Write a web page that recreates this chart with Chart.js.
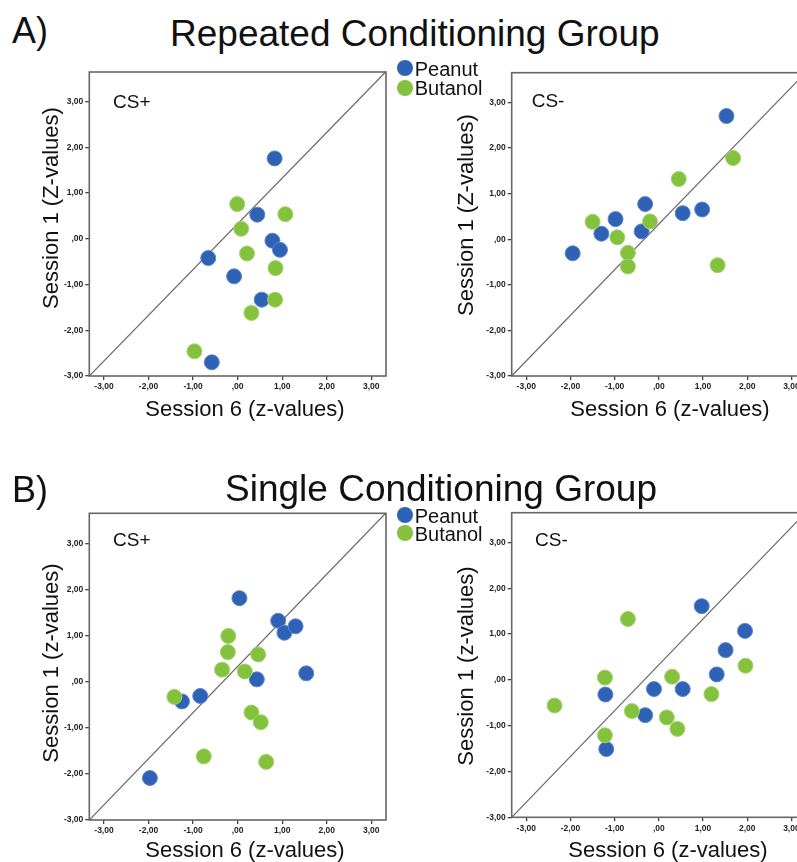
<!DOCTYPE html>
<html><head><meta charset="utf-8">
<script src="https://cdn.jsdelivr.net/npm/chart.js@4/dist/chart.umd.min.js"></script>
<style>
html,body{margin:0;padding:0;background:#fff;width:797px;height:862px;overflow:hidden;position:relative;font-family:"Liberation Sans",Arial,sans-serif;color:#111}
canvas{position:absolute}
.t{position:absolute;white-space:nowrap;line-height:1}
.dot{position:absolute;width:16px;height:16px;border-radius:50%}
</style></head><body>
<canvas id="c1" width="400" height="370" style="left:0;top:60px"></canvas>
<canvas id="c2" width="400" height="370" style="left:420px;top:60px"></canvas>
<canvas id="c3" width="400" height="362" style="left:0;top:500px"></canvas>
<canvas id="c4" width="400" height="362" style="left:420px;top:500px"></canvas>

<div class="t" style="left:12px;top:12.5px;font-size:36px">A)</div>
<div class="t" style="left:170px;top:14.7px;font-size:37px">Repeated Conditioning Group</div>
<div class="t" style="left:12px;top:472px;font-size:36px">B)</div>
<div class="t" style="left:441px;top:469.5px;font-size:37px;transform:translateX(-50%)">Single Conditioning Group</div>

<div class="t" style="left:113px;top:91.6px;font-size:19px">CS+</div>
<div class="t" style="left:531.7px;top:91px;font-size:19px">CS-</div>
<div class="t" style="left:113px;top:530px;font-size:19px">CS+</div>
<div class="t" style="left:535px;top:530px;font-size:19px">CS-</div>

<div class="t" style="left:245px;top:397.9px;font-size:22px;transform:translateX(-50%)">Session 6 (z-values)</div>
<div class="t" style="left:670px;top:397.9px;font-size:22px;transform:translateX(-50%)">Session 6 (z-values)</div>
<div class="t" style="left:245px;top:839.4px;font-size:22px;transform:translateX(-50%)">Session 6 (z-values)</div>
<div class="t" style="left:668px;top:839.4px;font-size:22px;transform:translateX(-50%)">Session 6 (z-values)</div>

<div class="t" style="left:50.7px;top:208px;font-size:22px;transform:translate(-50%,-50%) rotate(-90deg)">Session 1 (Z-values)</div>
<div class="t" style="left:465.7px;top:214.5px;font-size:22px;transform:translate(-50%,-50%) rotate(-90deg)">Session 1 (Z-values)</div>
<div class="t" style="left:50.7px;top:663px;font-size:22px;transform:translate(-50%,-50%) rotate(-90deg)">Session 1 (z-values)</div>
<div class="t" style="left:465.7px;top:666px;font-size:22px;transform:translate(-50%,-50%) rotate(-90deg)">Session 1 (z-values)</div>

<div id="leg"></div>

<script>
// ---- data ----
const tickValues = [-3, -2, -1, 0, 1, 2, 3];
const xRange = [-3.33, 3.33];
const yRange = [-3, 3.65];
const refLineX = [-3.33, 3.33];
const refLineY = [-3, 3.66];
const seriesNames = ['Peanut', 'Butanol'];

// A) Repeated conditioning, CS+
const repPlusPeanutX  = [0.83, 0.44, 0.78, 0.95, -0.66, -0.08, 0.54, -0.58];
const repPlusPeanutY  = [1.76, 0.53, -0.04, -0.24, -0.42, -0.82, -1.33, -2.70];
const repPlusButanolX = [-0.01, 1.07, 0.08, 0.21, 0.85, 0.84, 0.31, -0.97];
const repPlusButanolY = [0.76, 0.54, 0.22, -0.32, -0.64, -1.33, -1.62, -2.46];
// A) Repeated conditioning, CS-
const repMinusPeanutX  = [1.53, 0.98, 0.54, -0.31, -0.98, -1.30, -0.39, -1.95];
const repMinusPeanutY  = [2.70, 0.65, 0.57, 0.77, 0.44, 0.12, 0.17, -0.31];
const repMinusButanolX = [1.68, 0.45, -0.20, -1.50, -0.94, -0.70, -0.70, 1.33];
const repMinusButanolY = [1.78, 1.32, 0.39, 0.38, 0.04, -0.30, -0.60, -0.57];
// B) Single conditioning, CS+
const sinPlusPeanutX  = [0.04, 0.91, 1.05, 1.30, 1.54, 0.43, -0.84, -1.25, -1.97];
const sinPlusPeanutY  = [1.81, 1.32, 1.06, 1.20, 0.18, 0.05, -0.31, -0.43, -2.09];
const sinPlusButanolX = [-0.21, -0.22, 0.46, -0.35, 0.16, -1.42, 0.31, 0.52, -0.76, 0.64];
const sinPlusButanolY = [0.99, 0.64, 0.59, 0.26, 0.22, -0.33, -0.67, -0.88, -1.62, -1.74];
// B) Single conditioning, CS-
const sinMinusPeanutX  = [0.97, 1.95, 1.51, 1.31, 0.54, -0.11, -1.21, -0.31, -1.19];
const sinMinusPeanutY  = [1.61, 1.07, 0.65, 0.12, -0.20, -0.20, -0.32, -0.77, -1.51];
const sinMinusButanolX = [-0.70, 1.96, -1.22, 0.30, 1.19, -2.36, -0.61, 0.18, 0.42, -1.22];
const sinMinusButanolY = [1.33, 0.31, 0.05, 0.07, -0.31, -0.56, -0.68, -0.82, -1.07, -1.21];

// ---- style ----
const BLUE = '#2f62b5';
const GREEN = '#84c13d';
const zip = (xs, ys) => xs.map((x, i) => ({x: x, y: ys[i]}));
const fmt = v => v === 0 ? ',00' : v.toFixed(2).replace('.', ',');

const framePlugin = {
  id: 'frame',
  beforeDatasetsDraw(chart) {
    const a = chart.chartArea, ctx = chart.ctx;
    ctx.save();
    ctx.strokeStyle = '#666';
    ctx.lineWidth = 1.6;
    ctx.strokeRect(a.left, a.top, a.right - a.left, a.bottom - a.top);
    ctx.restore();
  }
};

function axis(fixSize, isX) {
  return {
    type: 'linear',
    min: isX ? xRange[0] : yRange[0],
    max: isX ? xRange[1] : yRange[1],
    afterBuildTicks: s => { s.ticks = tickValues.map(v => ({value: v})); },
    afterFit: s => { if (isX) s.height = fixSize; else s.width = fixSize; },
    border: {display: false},
    grid: {drawOnChartArea: false, drawTicks: true, tickLength: 4, color: '#444', lineWidth: 1.3},
    ticks: {
      callback: v => fmt(v),
      font: {family: 'Liberation Sans', size: 8.5, weight: 'bold'},
      color: '#222', padding: 2, maxRotation: 0, autoSkip: false
    }
  };
}

function panel(id, px, py, pb, pyw, pxh, padTop, padRight) {
  new Chart(document.getElementById(id), {
    type: 'scatter',
    data: {
      datasets: [
        {type: 'line', data: zip(refLineX, refLineY), borderColor: '#666', borderWidth: 1.2,
         pointRadius: 0, fill: false, order: 3},
        {label: seriesNames[0], data: zip(px, py), backgroundColor: BLUE, borderColor: '#5b86cf',
         borderWidth: 1, pointRadius: 7.5, order: 2},
        {label: seriesNames[1], data: zip(pb[0], pb[1]), backgroundColor: GREEN, borderColor: '#a3d36c',
         borderWidth: 1, pointRadius: 7.5, order: 1}
      ]
    },
    options: {
      responsive: false, animation: false, devicePixelRatio: 1, events: [],
      layout: {padding: {top: padTop, right: padRight, left: 0, bottom: 0}},
      plugins: {legend: {display: false}, tooltip: {enabled: false}},
      scales: {x: axis(pxh, true), y: axis(pyw, false)}
    },
    plugins: [framePlugin]
  });
}

panel('c1', repPlusPeanutX, repPlusPeanutY, [repPlusButanolX, repPlusButanolY], 89.3, 54, 12, 14);
panel('c2', repMinusPeanutX, repMinusPeanutY, [repMinusButanolX, repMinusButanolY], 91.7, 54, 12.7, 14);
panel('c3', sinPlusPeanutX, sinPlusPeanutY, [sinPlusButanolX, sinPlusButanolY], 89.3, 42, 13.3, 14);
panel('c4', sinMinusPeanutX, sinMinusPeanutY, [sinMinusButanolX, sinMinusButanolY], 91.7, 44.7, 12.7, 14);

// legends (HTML)
const legendSpots = [{cy: 68.3, gap: 19.4}, {cy: 515, gap: 18.3}];
const leg = document.getElementById('leg');
legendSpots.forEach(sp => {
  seriesNames.forEach((name, i) => {
    const cy = sp.cy + i * sp.gap;
    const d = document.createElement('div');
    d.className = 'dot';
    d.style.left = (405 - 8) + 'px';
    d.style.top = (cy - 8) + 'px';
    d.style.background = i === 0 ? BLUE : GREEN;
    leg.appendChild(d);
    const t = document.createElement('div');
    t.className = 't';
    t.style.fontSize = '20px';
    t.style.left = '414.7px';
    t.style.top = (cy + 7.4 - 16.9) + 'px';
    t.textContent = name;
    leg.appendChild(t);
  });
});
</script>
</body></html>
